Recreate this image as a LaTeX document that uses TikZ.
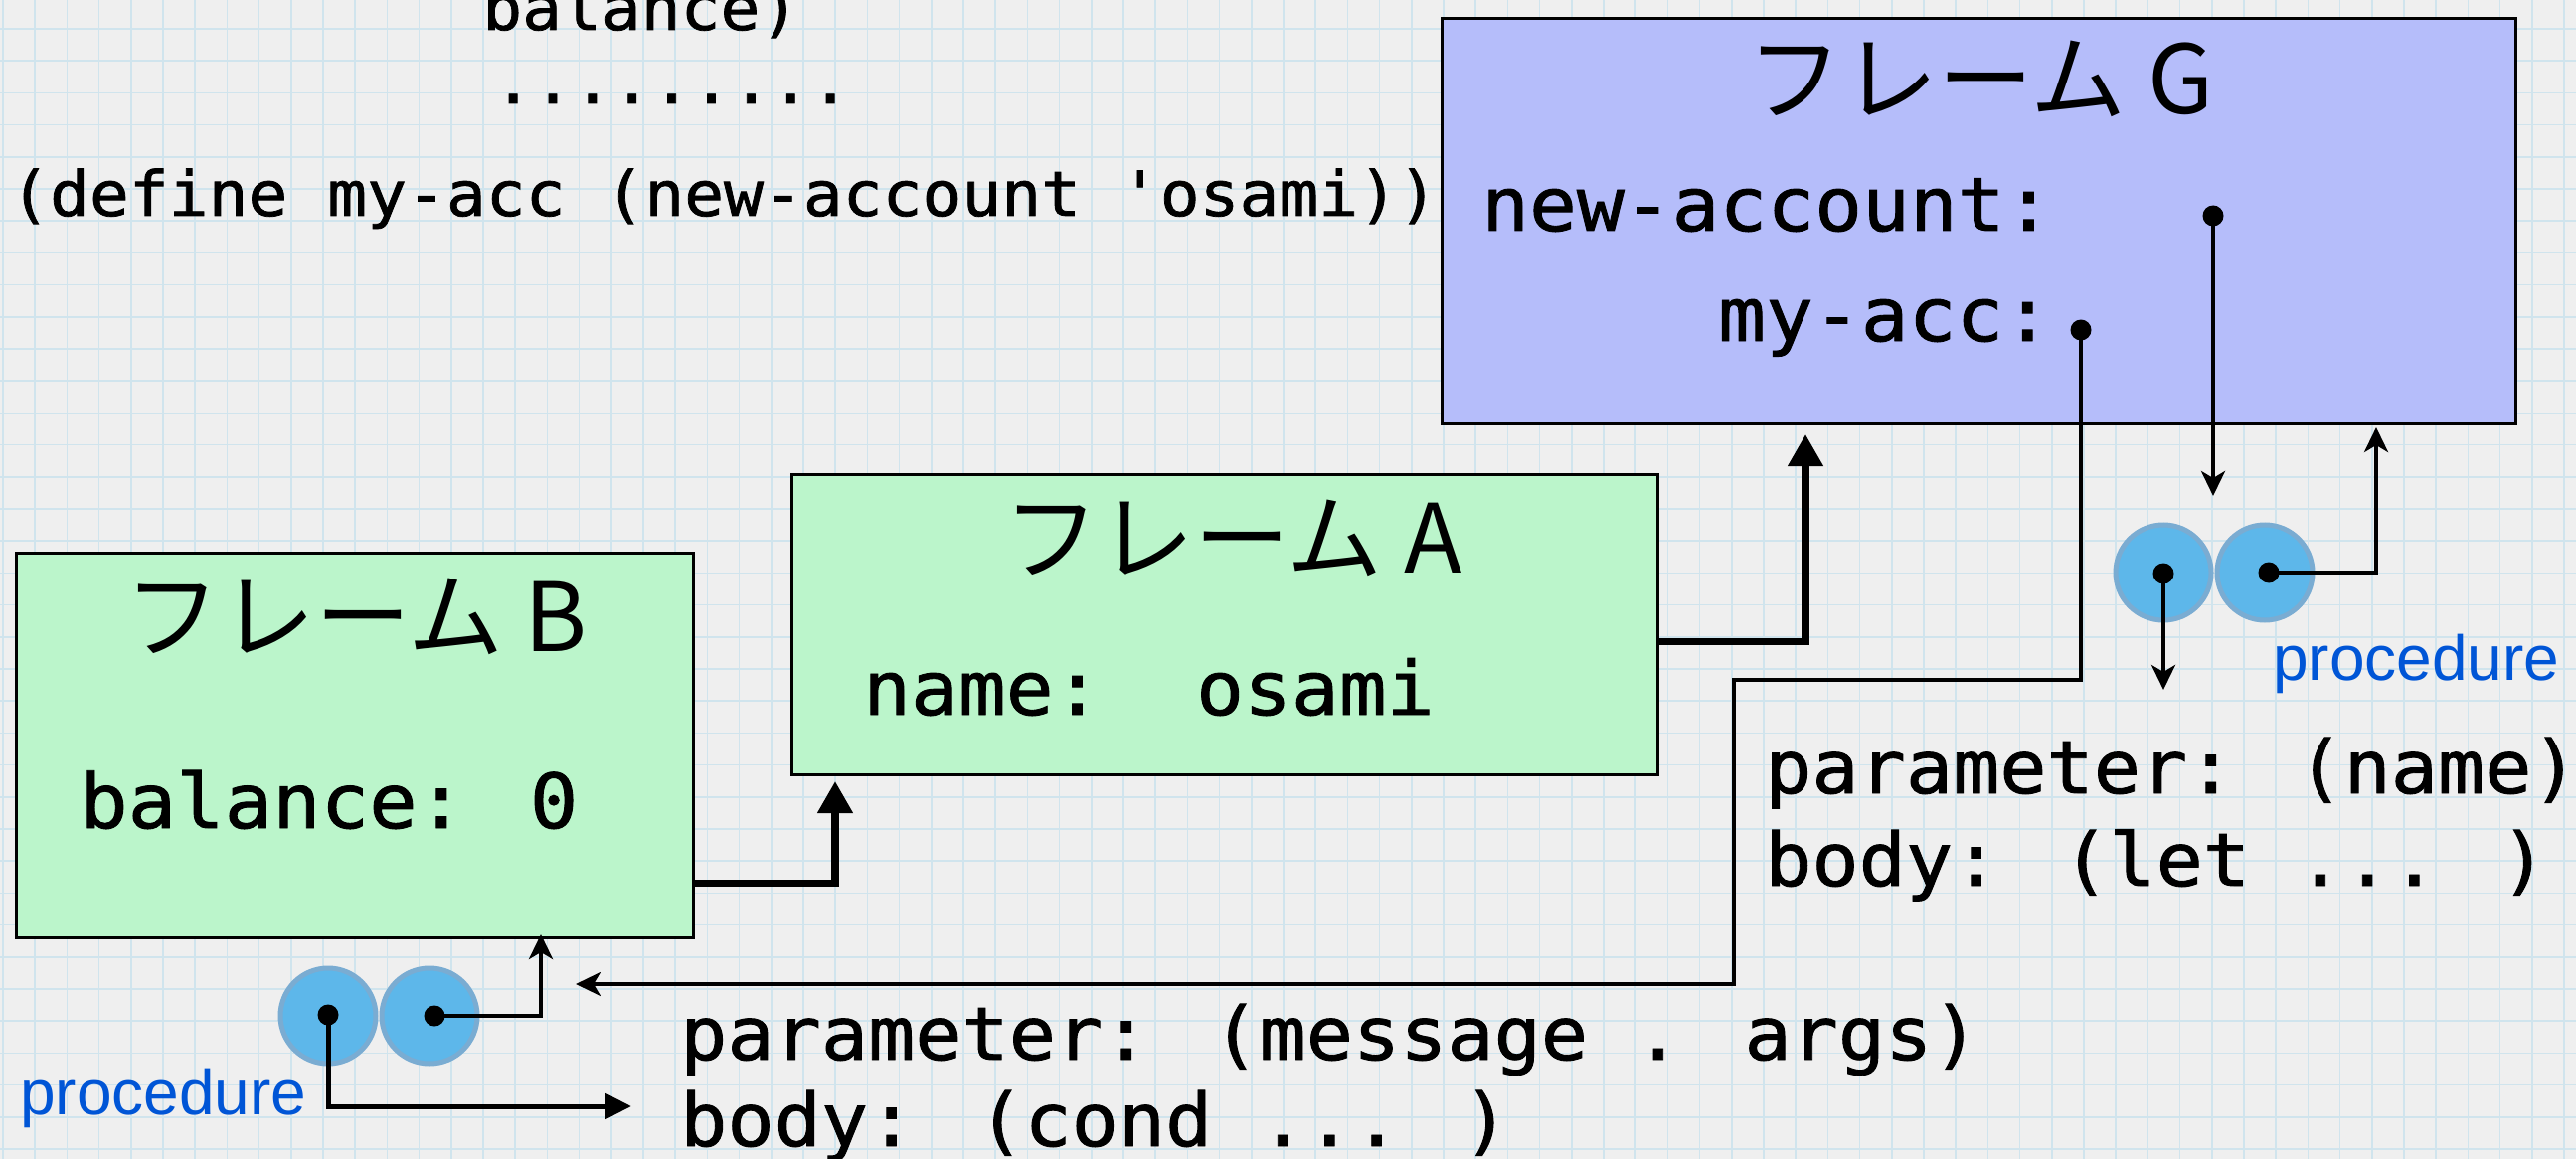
\documentclass[tikz,border=0pt]{standalone}
\usepackage{fontspec}
\usetikzlibrary{arrows.meta,calc}
\newfontfamily\monofont[FakeStretch=1.06,FakeBold=1.2]{DejaVu Sans Mono}
\newfontfamily\jpfont{Noto Sans CJK JP}
\newfontfamily\labelfont{Liberation Sans}
\definecolor{bgcol}{RGB}{239,239,239}
\definecolor{gridcol}{RGB}{208,228,237}
\definecolor{greenfill}{RGB}{187,245,203}
\definecolor{bluefill}{RGB}{181,189,250}
\definecolor{procfill}{RGB}{93,183,234}
\definecolor{procring}{RGB}{122,172,210}
\definecolor{proctext}{RGB}{0,85,214}
\tikzset{
  framebox/.style={draw=black, line width=3pt, rectangle, inner sep=0pt, anchor=north west},
  frametitle/.style={inner sep=0pt, anchor=base, font=\jpfont\fontsize{96}{110}\selectfont},
  bigcode/.style={inner sep=0pt, anchor=base west, font=\monofont\fontsize{74}{85}\selectfont},
  namecode/.style={inner sep=0pt, anchor=base west, font=\monofont\fontsize{75}{85}\selectfont},
  balcode/.style={inner sep=0pt, anchor=base west, font=\monofont\fontsize{76}{88}\selectfont},
  smallcode/.style={inner sep=0pt, anchor=base west, font=\monofont\fontsize{62.5}{70}\selectfont},
  proclabel/.style={inner sep=0pt, anchor=base west, text=proctext, font=\labelfont\fontsize{64}{70}\selectfont},
  procball/.style={circle, fill=procfill, draw=procring, line width=5pt, minimum size=96pt, inner sep=0pt},
  thinarrow/.style={line width=4pt, -{Stealth[length=25pt,width=24pt,inset=7pt]}},
  midarrow/.style={line width=5pt, -{Triangle[length=26pt,width=25pt]}},
  thickarrow/.style={line width=7.5pt, -{Triangle[length=32pt,width=34pt]}},
  refdot/.style={fill=black}
}
\begin{document}
\begin{tikzpicture}[x=1pt,y=-1pt]
% background
\fill[bgcol] (0,0) rectangle (2591,1166);
\useasboundingbox (0,0) rectangle (2591,1166);
\foreach \i in {0,...,80} {
  \draw[gridcol, line width=1.6pt] ({3+32.2*\i},0) -- ({3+32.2*\i},1166);
}
\foreach \j in {-1,...,36} {
  \draw[gridcol, line width=1.6pt] (0,{29+32.2*\j}) -- (2591,{29+32.2*\j});
}

% top code
\node[smallcode] (t1) at (485,30) {balance)};
\node[smallcode] (t2) at (496,104) {.........};
\node[smallcode] (t3) at (10,217) {(define my-acc (new-account 'osami))};

% frames
\node[framebox, fill=bluefill, minimum width=1080pt, minimum height=408pt] (G) at (1449,17) {};
\node[framebox, fill=greenfill, minimum width=871pt, minimum height=302pt] (A) at (795,476) {};
\node[framebox, fill=greenfill, minimum width=681pt, minimum height=387pt] (B) at (15,555) {};

\node[frametitle] (Gt) at (1992,115) {フレーム G};
\node[frametitle] (At) at (1240,576) {フレーム A};
\node[frametitle] (Bt) at (358,655) {フレーム B};

\node[namecode] (Gna) at (1490,232) {new-account:};
\node[namecode] (Gma) at (1728,343) {my-acc:};
\node[namecode] (Aname) at (868,719) {name:\ \ osami};
\node[balcode] (Bbal) at (80,833) {balance: 0};

% procedure objects
\node[procball] (pg1) at (2176,576) {};
\node[procball] (pg2) at (2278,576) {};
\node[procball] (pb1) at (330,1022) {};
\node[procball] (pb2) at (432,1022) {};
\node[proclabel] (pgl) at (2286,684) {procedure};
\node[proclabel] (pbl) at (20,1121) {procedure};

\node[bigcode] (rp) at (1775,798) {parameter: (name)};
\node[bigcode] (rb) at (1775,891) {body: (let ... )};
\node[bigcode] (lp) at (684,1066) {parameter: (message . args)};
\node[bigcode] (lb) at (684,1153) {body: (cond ... )};

% coordinates
\coordinate (gNA) at (2226,217);
\coordinate (gMA) at (2093,332);
\coordinate (pg1d) at (2176,577);
\coordinate (pg2d) at (2282,576);
\coordinate (pb1d) at (330,1021);
\coordinate (pb2d) at (437,1022);
\coordinate (e1) at (2226,499);
\coordinate (e2) at (579,990);
\coordinate (m1) at (2093,684);
\coordinate (m2) at (1744,684);
\coordinate (m3) at (1744,990);
\coordinate (e3) at (2176,694);
\coordinate (e4) at (2390,430);
\coordinate (e5) at (635,1113);
\coordinate (e6) at (544,940);
\coordinate (gIn) at (1816,437);
\coordinate (aIn) at (840,786);

% connectors
\draw[thickarrow] ([yshift=-17pt]A.east) -| (gIn);
\draw[thickarrow] ([yshift=-138.5pt]B.east) -| (aIn);
\draw[thinarrow] (gNA) -- (e1);
\draw[thinarrow] (gMA) -- (m1) -- (m2) -- (m3) -- (e2);
\draw[thinarrow] (pg1d) -- (e3);
\draw[thinarrow] (pg2d) -| (e4);
\draw[midarrow] (pb1d) |- (e5);
\draw[thinarrow] (pb2d) -| (e6);

% reference dots
\foreach \p in {gNA,gMA,pg1d,pg2d,pb1d,pb2d} {
  \fill[refdot] (\p) circle[radius=10.5pt];
}
\end{tikzpicture}
\end{document}
